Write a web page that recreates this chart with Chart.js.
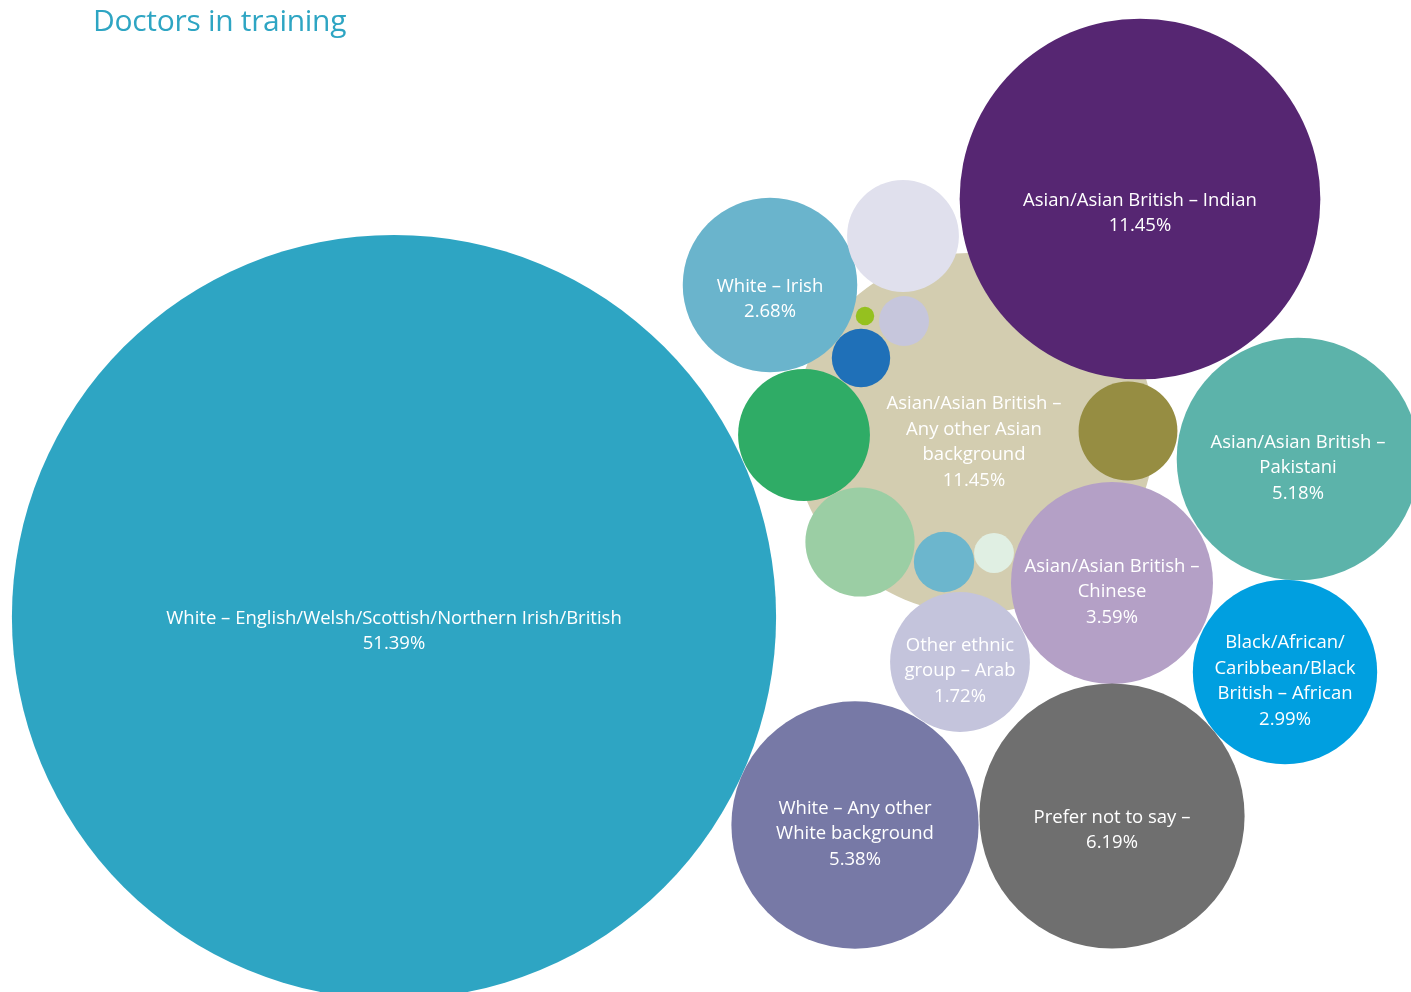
<!DOCTYPE html>
<html>
<head>
<meta charset="utf-8">
<title>Doctors in training</title>
<script src="https://cdn.jsdelivr.net/npm/chart.js@4.4.1/dist/chart.umd.min.js"></script>
<style>
  html, body { margin: 0; padding: 0; background: #fff; }
  #wrap { position: relative; width: 1411px; height: 992px; overflow: hidden; }
  #title {
    position: absolute; left: 93px; top: -1px; margin: 0;
    font-family: "Open Sans", sans-serif; font-weight: 400;
    font-size: 30px; color: #2ea5c3; letter-spacing: -0.3px;
  }
  canvas { position: absolute; left: 0; top: 0; }
</style>
</head>
<body>
<div id="wrap">
  <canvas id="bubbles" width="1411" height="992"></canvas>
  <h1 id="title">Doctors in training</h1>
</div>
<script>
// ethnic groups, each label split into the lines it is shown on (null = unlabelled)
var groups = [
  ['Asian/Asian British –', 'Any other Asian', 'background'],
  ['White – English/Welsh/Scottish/Northern Irish/British'],
  ['Asian/Asian British – Indian'],
  ['White – Irish'],
  null,
  null,
  null,
  null,
  null,
  null,
  null,
  null,
  null,
  ['Asian/Asian British –', 'Pakistani'],
  ['Asian/Asian British –', 'Chinese'],
  ['Black/African/', 'Caribbean/Black', 'British – African'],
  ['Other ethnic', 'group – Arab'],
  ['White – Any other', 'White background'],
  ['Prefer not to say –']
];

// share of doctors in training, %
var shares = [11.45, 51.39, 11.45, 2.68, 1.10, 0.03, 0.22, 0.30, 1.53, 0.86, 1.05, 0.32, 0.14,
              5.18, 3.59, 2.99, 1.72, 5.38, 6.19];

// where each bubble sits in the packed layout (0-1411 across, 0-992 down)
var posX = [974, 394, 1140, 770, 903, 865, 904, 861, 804, 1128, 860, 944, 994,
            1298, 1112, 1285, 960, 855, 1112];
var posY = [433, 617, 199, 285, 236, 316, 321, 358, 435, 431, 542, 562, 553,
            459, 583, 672, 662, 825, 816];

var colours = ['#d3cdb0', '#2ea5c3', '#562672', '#6ab4cc', '#e0e0ed', '#95c11f', '#c6c6dc',
               '#1f70b8', '#2fac66', '#968d42', '#9bcea4', '#6cb6cd', '#e0efe3',
               '#5cb3aa', '#b4a0c6', '#009fe0', '#c4c4dc', '#7779a6', '#6f6f6f'];

var RADIUS_PER_ROOT = 53.3;   // px of radius per sqrt(%)

var points = shares.map(function (v, i) {
  return { x: posX[i], y: posY[i], r: RADIUS_PER_ROOT * Math.sqrt(v) };
});

// white, centred label text inside each named bubble
var bubbleLabels = {
  id: 'bubbleLabels',
  afterDatasetsDraw: function (chart) {
    var c = chart.ctx;
    var meta = chart.getDatasetMeta(0);
    c.save();
    c.fillStyle = '#ffffff';
    c.textAlign = 'center';
    c.textBaseline = 'middle';
    c.font = '18.5px "Open Sans", sans-serif';
    meta.data.forEach(function (el, i) {
      if (!groups[i]) return;
      var lines = groups[i].concat([shares[i].toFixed(2) + '%']);
      var lh = 25.5;
      var mid = el.y + (lines.length === 2 ? 14 : 9);
      lines.forEach(function (t, j) {
        c.fillText(t, el.x, mid + (j - (lines.length - 1) / 2) * lh);
      });
    });
    c.restore();
  }
};

var ctx = document.getElementById('bubbles').getContext('2d');
var myChart = new Chart(ctx, {
  type: 'bubble',
  data: {
    datasets: [{
      data: points,
      backgroundColor: colours,
      hoverBackgroundColor: colours,
      borderWidth: 0,
      hoverBorderWidth: 0,
      clip: false
    }]
  },
  options: {
    responsive: false,
    animation: false,
    devicePixelRatio: 1,
    layout: { padding: 0, autoPadding: false },
    events: [],
    scales: {
      x: { type: 'linear', min: 0, max: 1411, display: false },
      y: { type: 'linear', min: 0, max: 992, reverse: true, display: false }
    },
    plugins: {
      legend: { display: false },
      tooltip: { enabled: false }
    }
  },
  plugins: [bubbleLabels]
});
</script>
</body>
</html>
